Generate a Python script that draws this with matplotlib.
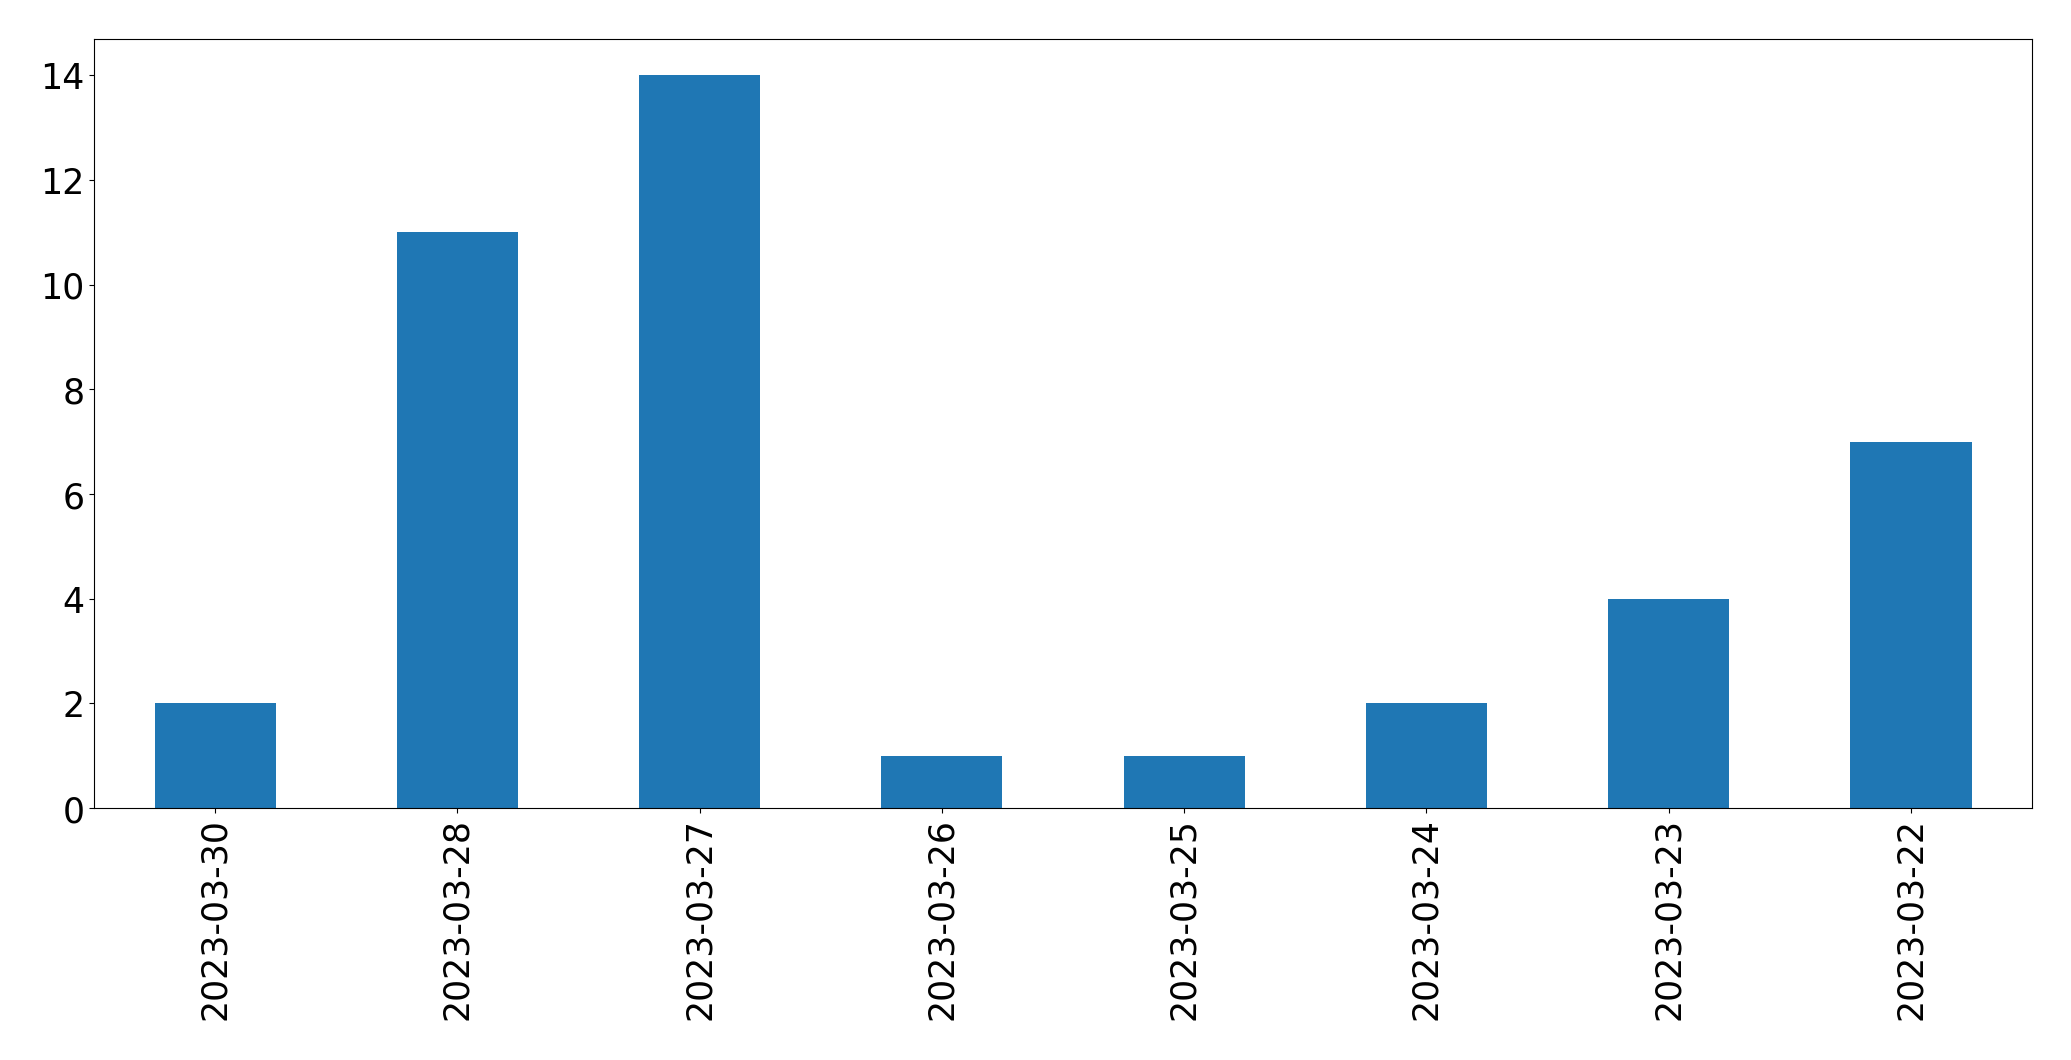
import matplotlib
matplotlib.use("Agg")
import matplotlib.pyplot as plt
import pandas as pd

dates = ["2023-03-30", "2023-03-28", "2023-03-27", "2023-03-26",
         "2023-03-25", "2023-03-24", "2023-03-23", "2023-03-22"]
counts = [2, 11, 14, 1, 1, 2, 4, 7]

s = pd.Series(counts, index=dates)

fig, ax = plt.subplots(figsize=(20.71, 10.605), dpi=100)
s.plot(kind="bar", ax=ax, color="#1f77b4", fontsize=25)
ax.tick_params(axis="both", labelsize=25)
fig.subplots_adjust(left=0.0454, right=0.9812, top=0.9632, bottom=0.2375)
fig.savefig("out.png", dpi=100)
